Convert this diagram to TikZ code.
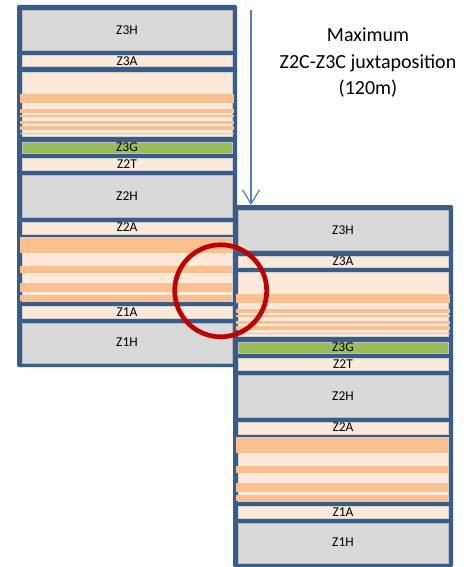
\documentclass[tikz,border=0pt]{standalone}
\usepackage{fontspec}
\setmainfont{Carlito}
\usetikzlibrary{arrows.meta}
\definecolor{frameblue}{HTML}{385D8A}
\definecolor{layergray}{HTML}{D9D9D9}
\definecolor{layerpale}{HTML}{FDE9D9}
\definecolor{layerorange}{HTML}{FAC090}
\definecolor{layergreen}{HTML}{9BBB59}
\definecolor{circlered}{HTML}{C00000}
\definecolor{arrowblue}{HTML}{4F81BD}
\tikzset{
  frame/.style={fill=frameblue, rounded corners=1.5pt},
  graylayer/.style={fill=layergray, draw=black!28, line width=0.4pt},
  palelayer/.style={fill=layerpale, draw=black!18, line width=0.4pt},
  greenlayer/.style={fill=layergreen, draw=black!25, line width=0.4pt},
  stripe/.style={fill=layerorange},
  lbl/.style={font=\fontsize{13.5}{13.5}\selectfont, text=black, inner sep=0pt},
  bigtxt/.style={font=\fontsize{20}{26.5}\selectfont, align=center, text=black, inner sep=0pt},
}
\newcommand\stratcolumn[1]{%
  \fill[frame] (17,5) rectangle (237,367);
  \filldraw[graylayer] (22,10) rectangle (232,50);
  \filldraw[palelayer] (22,55.7) rectangle (232,66.7);
  \filldraw[palelayer] (22,72.3) rectangle (232,136.5);
  \fill[stripe] (20,94.3) rectangle (234,102.7);
  \fill[stripe] (20,109) rectangle (234,112.7);
  \fill[stripe] (20,115) rectangle (234,117.3);
  \fill[stripe] (20,120.7) rectangle (234,124);
  \fill[stripe] (20,126) rectangle (234,130);
  \fill[stripe] (20,132.7) rectangle (234,134.3);
  \filldraw[greenlayer] (22,141.7) rectangle (232,152.7);
  \filldraw[palelayer] (22,158.3) rectangle (232,170);
  \filldraw[graylayer] (22,175) rectangle (232,216.7);
  \filldraw[palelayer] (22,221.7) rectangle (232,234);
  \filldraw[palelayer] (22,236.7) rectangle (232,301);
  \fill[stripe] (20,236.7) rectangle (232,252.7);
  \fill[stripe] (20,266) rectangle (232,272.7);
  \fill[stripe] (20,282.7) rectangle (232,292);
  \fill[stripe] (20,295.3) rectangle (232,301);
  \filldraw[palelayer] (22,306) rectangle (232,318.3);
  \filldraw[graylayer] (22,322.7) rectangle (232,363);
  \node[lbl] (#1Z3H) at (127,30) {Z3H};
  \node[lbl] (#1Z3A) at (127,61.2) {Z3A};
  \node[lbl] (#1Z3G) at (127,147.2) {Z3G};
  \node[lbl] (#1Z2T) at (127,164) {Z2T};
  \node[lbl] (#1Z2H) at (127,195.8) {Z2H};
  \node[lbl] (#1Z2A) at (127,227) {Z2A};
  \node[lbl] (#1Z1A) at (127,312.2) {Z1A};
  \node[lbl] (#1Z1H) at (127,342.5) {Z1H};
}
\begin{document}
\begin{tikzpicture}[x=1pt,y=-1pt]
\useasboundingbox (0,0) rectangle (468,567);
\fill[white] (0,0) rectangle (468,567);
\begin{scope}
  \stratcolumn{L}
\end{scope}
\begin{scope}[shift={(216,200)}]
  \stratcolumn{R}
\end{scope}
\coordinate (juxta) at (220.7,290.8);
\draw[circlered, line width=4.7pt] (juxta) circle (46);
\coordinate (arrtop) at (251,10);
\coordinate (arrbot) at (251,205);
\draw[arrowblue, line width=1.2pt, -{Straight Barb[length=14pt,width=17pt,line width=1.2pt]}] (arrtop) -- (arrbot);
\node[bigtxt] (caption) at (368,63) {Maximum\\Z2C-Z3C juxtaposition\\(120m)};
\end{tikzpicture}
\end{document}
